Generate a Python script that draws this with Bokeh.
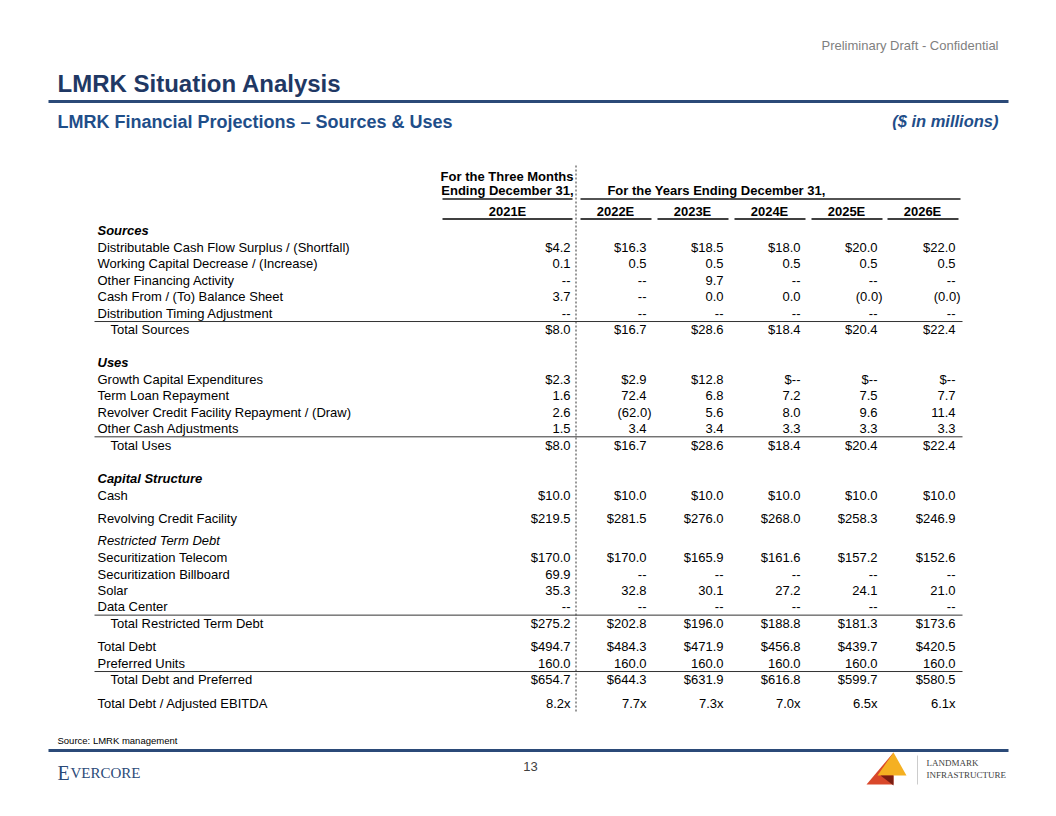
import math
from bokeh.plotting import figure
from bokeh.models import Range1d, ColumnDataSource
from bokeh.core.properties import value
from bokeh.embed import file_html
from bokeh.resources import INLINE

# ---------------- data ----------------
years = ["2021E", "2022E", "2023E", "2024E", "2025E", "2026E"]

row_labels = [
    "Distributable Cash Flow Surplus / (Shortfall)",
    "Working Capital Decrease / (Increase)",
    "Other Financing Activity",
    "Cash From / (To) Balance Sheet",
    "Distribution Timing Adjustment",
    "Total Sources",
    "Growth Capital Expenditures",
    "Term Loan Repayment",
    "Revolver Credit Facility Repayment / (Draw)",
    "Other Cash Adjustments",
    "Total Uses",
    "Cash",
    "Revolving Credit Facility",
    "Securitization Telecom",
    "Securitization Billboard",
    "Solar",
    "Data Center",
    "Total Restricted Term Debt",
    "Total Debt",
    "Preferred Units",
    "Total Debt and Preferred",
    "Total Debt / Adjusted EBITDA",
]

q4_2021 = [4.2, 0.1, None, 3.7, None, 8.0, 2.3, 1.6, 2.6, 1.5, 8.0,
           10.0, 219.5, 170.0, 69.9, 35.3, None, 275.2, 494.7, 160.0, 654.7, 8.2]
fy2022 = [16.3, 0.5, None, None, None, 16.7, 2.9, 72.4, -62.0, 3.4, 16.7,
          10.0, 281.5, 170.0, None, 32.8, None, 202.8, 484.3, 160.0, 644.3, 7.7]
fy2023 = [18.5, 0.5, 9.7, 0.0, None, 28.6, 12.8, 6.8, 5.6, 3.4, 28.6,
          10.0, 276.0, 165.9, None, 30.1, None, 196.0, 471.9, 160.0, 631.9, 7.3]
fy2024 = [18.0, 0.5, None, 0.0, None, 18.4, None, 7.2, 8.0, 3.3, 18.4,
          10.0, 268.0, 161.6, None, 27.2, None, 188.8, 456.8, 160.0, 616.8, 7.0]
fy2025 = [20.0, 0.5, None, -0.0, None, 20.4, None, 7.5, 9.6, 3.3, 20.4,
          10.0, 258.3, 157.2, None, 24.1, None, 181.3, 439.7, 160.0, 599.7, 6.5]
fy2026 = [22.0, 0.5, None, -0.0, None, 22.4, None, 7.7, 11.4, 3.3, 22.4,
          10.0, 246.9, 152.6, None, 21.0, None, 173.6, 420.5, 160.0, 580.5, 6.1]
columns = [q4_2021, fy2022, fy2023, fy2024, fy2025, fy2026]

dollar_rows = {0, 5, 6, 10, 11, 12, 13, 17, 18, 20}
multiple_rows = {21}
total_rows = {5, 10, 17, 20}

section_heads = [("Sources", 0, "bold italic"), ("Uses", 6, "bold italic"),
                 ("Capital Structure", 11, "bold italic"),
                 ("Restricted Term Debt", 13, "italic")]

# ---------------- layout ----------------
STEP = 16.45
# vertical gap before each value row (in px)
gaps = [16.0, STEP, STEP, STEP, STEP, STEP,
        49.5, STEP, STEP, STEP, STEP,
        50.0, 23.0, 39.5, STEP, STEP, STEP, STEP,
        23.5, STEP, STEP, 23.5]
row_y = []
y = 231.0
for g in gaps:
    y += g
    row_y.append(y)

LABEL_X = 97
INDENT_X = 110
col_right = [570, 646, 723, 800, 877, 955]
col_center = [507, 615, 692, 769, 846, 922]
FONT = value("Liberation Sans")
SERIF = value("Liberation Serif")
NAVY = "#1F3864"
BLUE = "#1F4E89"
INK = "#000000"

p = figure(width=1040, height=800, x_range=Range1d(0, 1040), y_range=Range1d(800, 0),
           output_backend="svg", toolbar_location=None, min_border=0,
           x_axis_location=None, y_axis_location=None)
p.grid.visible = False
p.outline_line_color = None
p.background_fill_color = "white"


def txt(xs, ys, texts, size="13px", align="left", color=INK, style="normal",
        font=FONT, baseline="middle"):
    src = ColumnDataSource(dict(x=list(xs), y=list(ys), t=list(texts)))
    p.text(x="x", y="y", text="t", source=src, text_font=font,
           text_font_size=size, text_align=align, text_baseline=baseline,
           text_color=color, text_font_style=style)


def fmt(v, r):
    if v is None:
        return "$--" if r in dollar_rows else "--"
    neg = v < 0 or (v == 0 and math.copysign(1, v) < 0)
    s = "%.1f" % abs(v)
    if neg:
        s = "(" + s + ")"
    if r in dollar_rows:
        s = "$" + s
    if r in multiple_rows:
        s = s + "x"
    return s


# ---------------- page header ----------------
txt([998], [45], ["Preliminary Draft - Confidential"], size="13px", align="right",
    color="#7F7F7F")
txt([57], [83], ["LMRK Situation Analysis"], size="24px", color=NAVY, style="bold")
p.line([48, 1008], [101, 101], line_color="#2B4A78", line_width=3)
txt([57], [121], ["LMRK Financial Projections \u2013 Sources & Uses"], size="18px",
    color=BLUE, style="bold")
txt([998], [120], ["($ in millions)"], size="16.5px", align="right", color=BLUE,
    style="bold italic")

# ---------------- table header ----------------
txt([573, 573], [176, 190], ["For the Three Months", "Ending December 31,"],
    align="right", style="bold")
txt([716], [190], ["For the Years Ending December 31,"], align="center", style="bold")
p.segment(x0=[442, 580], y0=[198.5, 198.5], x1=[572, 960], y1=[198.5, 198.5],
          line_color="#1A1A1A", line_width=1.5)
txt(col_center, [211] * 6, years, align="center", style="bold")
p.segment(x0=[c - 65 for c in col_center[:1]] + [c - 35 for c in col_center[1:]],
          y0=[218.5] * 6,
          x1=[c + 65 for c in col_center[:1]] + [c + 36 for c in col_center[1:]],
          y1=[218.5] * 6, line_color="#404040", line_width=2.2)

# dashed separator
p.line([575.5, 575.5], [165, 712], line_color="#333333", line_width=1,
       line_dash="2 2")

# ---------------- section heads ----------------
for name, r, st in section_heads:
    txt([LABEL_X], [row_y[r] - 16.6], [name], style=st)

# ---------------- row labels ----------------
normal_idx = [i for i in range(len(row_labels)) if i not in total_rows]
txt([LABEL_X] * len(normal_idx), [row_y[i] for i in normal_idx],
    [row_labels[i] for i in normal_idx])
tot_idx = sorted(total_rows)
txt([INDENT_X] * len(tot_idx), [row_y[i] for i in tot_idx],
    [row_labels[i] for i in tot_idx])

# subtotal rules
rule_y = [(row_y[r] + row_y[r - 1]) / 2 for r in tot_idx]
p.segment(x0=[94] * len(rule_y), y0=rule_y, x1=[962] * len(rule_y), y1=rule_y,
          line_color="#333333", line_width=1)

# ---------------- values ----------------
for ci, col in enumerate(columns):
    xs, ys, ts = [], [], []
    for r, v in enumerate(col):
        s = fmt(v, r)
        xs.append(col_right[ci] + (5 if s.endswith(")") else 0))
        ys.append(row_y[r])
        ts.append(s)
    txt(xs, ys, ts, align="right")

# ---------------- footer ----------------
txt([57], [740], ["Source: LMRK management"], size="9.5px")
p.line([48, 1008], [750, 750], line_color="#2B4A78", line_width=3)
txt([57], [772], ["E"], size="20px", color="#2B4A78", font=SERIF,
    baseline="alphabetic")
txt([70], [772], ["VERCORE"], size="15px", color="#2B4A78", font=SERIF,
    baseline="alphabetic")
txt([530], [766], ["13"], size="13px", align="center", color="#404040")

# Landmark logo
p.patch([866, 893, 893], [784, 752, 784], fill_color="#D9482B", line_color=None)
p.patch([877, 893, 906], [775, 752, 775], fill_color="#F5B021", line_color=None)
p.patch([880, 893, 893], [775, 775, 785], fill_color="#7A1E12", line_color=None)
p.line([917, 917], [755, 784], line_color="#CCCCCC", line_width=1)
txt([926, 926], [762, 774], ["LANDMARK", "INFRASTRUCTURE"], size="9px",
    color="#404040", font=SERIF)

open("out.html", "w").write(file_html(p, INLINE))
